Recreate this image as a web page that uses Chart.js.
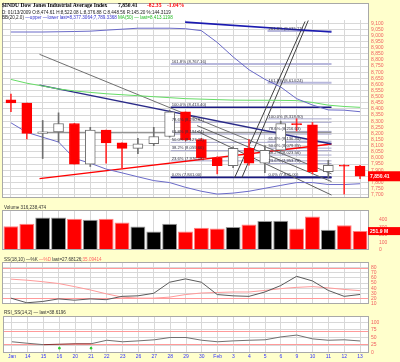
<!DOCTYPE html>
<html>
<head>
<meta charset="utf-8">
<script src="https://cdn.jsdelivr.net/npm/chart.js@4.4.1/dist/chart.umd.min.js"></script>
<style>
  html, body { margin: 0; padding: 0; background: #ffffcc; }
  #wrap { position: relative; width: 400px; height: 362px; overflow: hidden; }
  canvas { position: absolute; left: 0; }
</style>
</head>
<body>
<div id="wrap">
  <canvas id="priceChart" width="400" height="204" style="top:0px"></canvas>
  <canvas id="volumeChart" width="400" height="52" style="top:204px"></canvas>
  <canvas id="stochChart" width="400" height="54" style="top:256px"></canvas>
  <canvas id="rsiChart" width="400" height="52" style="top:310px"></canvas>
</div>
<script>
// $INDU daily, 13 Jan - 13 Feb 2009
const dates = ['Jan', '14', '15', '16', '20', '21', '22', '23', '26', '27', '28', '29', '30',
  'Feb', '3', '4', '5', '6', '9', '10', '11', '12', '13'];

const openPrices = [8474.61, 8448.56, 8200.14, 8212.49, 8281.22, 7949.09, 8228.10, 8122.80, 8077.56, 8116.03, 8174.73, 8375.45,
  8149.01, 8000.86, 7936.75, 8078.36, 7956.66, 8063.07, 8280.59, 8270.87, 7888.88, 7939.53, 7932.76];
const highPrices = [8522.08, 8448.56, 8306, 8368, 8281.22, 8250, 8228.10, 8122.80, 8160, 8250, 8390, 8375.45,
  8160, 8010, 8090, 8150, 8100, 8300, 8320, 8290, 7980, 7945, 7940];
const lowPrices = [8376.88, 8155, 7995, 8130, 7949.09, 7930, 7957, 7915, 8035, 8100, 8170, 8140,
  7990, 7870, 7920, 7940, 7880, 8050, 8220, 7870, 7840, 7705, 7830];
const closePrices = [8448.56, 8200.14, 8212.49, 8281.22, 7949.09, 8228.10, 8122.80, 8077.56, 8116.03, 8174.73, 8375.45, 8149.01,
  8000.86, 7936.75, 8078.36, 7956.66, 8063.07, 8280.59, 8270.87, 7888.88, 7939.53, 7932.76, 7850.41];

// volume, millions of shares
const volumeM = [316.2, 350, 432, 432, 418, 403, 418, 368, 313, 245, 350, 245,
  298, 287, 308, 340, 386, 389, 287, 445, 270, 329, 251.9];

// overlays
const bbUpper = [9028, 9028, 9028, 9030, 9032, 9035, 9043, 9051, 9059, 9059, 9059, 9055,
  9039, 8943, 8825, 8720, 8642, 8579, 8484, 8432, 8392, 8390, 8377.31];
const bbLower = [8287, 8209, 8169, 8130, 7996, 7957, 7909, 7878, 7846, 7815, 7799, 7760,
  7728, 7705, 7713, 7728, 7752, 7776, 7799, 7799, 7783, 7783, 7789.34];
const ma50 = [8641, 8610, 8587, 8563, 8547, 8535, 8524, 8516, 8508, 8500, 8492, 8484,
  8480, 8476, 8472, 8471, 8471, 8470, 8468, 8453, 8431, 8420, 8413.12];

// trendlines: [bar index, price] end points
const trendNavy = [[-0.5, 8594], [22.5, 8114]];
const trendNavyTop = [[10.97, 9109], [22.5, 9028]];
const trendGrayA = [[-0.5, 8846], [22.5, 7870]];
const trendGrayB = [[11.91, 8264], [22.5, 7807]];
const trendGrayC = [[11.91, 8217], [22.5, 7697]];
const trendSteepA = [[14.87, 7839], [20.42, 9114]];
const trendSteepB = [[15.44, 7839], [20.67, 9122]];
const trendRed = [[-0.5, 7831], [22.5, 8114]];
const supportLevel = 8209;

// fibonacci sets
const fibRatios = ['0.0%', '23.6%', '38.2%', '50.0%', '61.8%', '78.6%', '100.0%', '161.8%', '261.8%'];
const fib1Start = 9.83;
const fib1Levels = [7841.00, 7976.09, 8059.66, 8127.20, 8194.74, 8290.91, 8413.40, 8767.16];
const fib2Start = 17.46;
const fib2Levels = [7841.00, 7953.78, 8023.56, 8079.95, 8136.34, 8216.63, 8318.90, 8614.24, 9035.21];

// indicators
const stochK = [20.5, 11.5, 14, 19, 16.5, 19, 17.5, 24, 25, 30, 51.5, 58,
  51.5, 27.5, 25, 24, 32.5, 45, 63, 54, 35.5, 24, 27.68];
const stochD = [57.5, 55.5, 52.5, 49, 43, 36.5, 29, 22.5, 20.5, 20.5, 22.5, 27.5,
  30.5, 31.5, 32.5, 32.5, 35.5, 39, 41.5, 43, 40.5, 37.5, 35.09];
const stochLevels = [80, 20];
const rsiValues = [36, 31, 26.5, 28, 29.5, 29.5, 41, 36, 39, 42.5, 50, 50,
  41, 36, 39, 41, 42.5, 52, 58, 45.5, 41, 42.5, 38.62];
const rsiSignals = [null, null, null, 15, null, 15, null, null, null, null, null, null,
  null, null, null, null, null, null, null, null, null, null, null];
const rsiLevels = [70, 30];

const YELLOW = '#ffffcc';
const GRID = '#d8d8d8';
const AXIS_RED = '#f06060';
const FONT = 'Liberation Sans';

const upDay = closePrices.map((c, i) => c >= openPrices[i]);
const fmt2 = v => v.toLocaleString('en-US', { minimumFractionDigits: 2, maximumFractionDigits: 2 });

// white panel on yellow page + grey frame
const panelBg = {
  id: 'panelBg',
  beforeDraw(chart, args, opts) {
    const { ctx, chartArea: a } = chart;
    const top = opts.top !== undefined ? opts.top : a.top;
    ctx.save();
    ctx.fillStyle = YELLOW;
    ctx.fillRect(0, 0, chart.width, chart.height);
    ctx.fillStyle = '#ffffff';
    ctx.fillRect(a.left, top, a.right - a.left, a.bottom - top);
    ctx.restore();
  },
  afterDraw(chart, args, opts) {
    const { ctx, chartArea: a } = chart;
    const top = opts.top !== undefined ? opts.top : a.top;
    ctx.save();
    ctx.strokeStyle = '#a8a8a8';
    ctx.lineWidth = 1;
    ctx.strokeRect(a.left - 0.5, top + 0.5, a.right - a.left + 1, a.bottom - top - 1);
    ctx.restore();
  }
};

function drawParts(ctx, x, y, parts, font) {
  ctx.font = font;
  ctx.textBaseline = 'middle';
  ctx.textAlign = 'left';
  parts.forEach(([text, color]) => {
    ctx.fillStyle = color;
    ctx.fillText(text, x, y);
    x += ctx.measureText(text).width;
  });
}

function levelLines(levels, color) {
  return {
    id: 'levelLines',
    beforeDatasetsDraw(chart) {
      const { ctx, chartArea: a, scales } = chart;
      ctx.save();
      ctx.strokeStyle = color;
      ctx.lineWidth = 1;
      levels.forEach(v => {
        const y = Math.round(scales.y.getPixelForValue(v)) + 0.5;
        ctx.beginPath();
        ctx.moveTo(a.left, y);
        ctx.lineTo(a.right, y);
        ctx.stroke();
      });
      ctx.restore();
    }
  };
}

function valueTag(value, text, h) {
  return {
    id: 'valueTag',
    afterDraw(chart) {
      const { ctx, chartArea: a, scales } = chart;
      const y = scales.y.getPixelForValue(value);
      ctx.save();
      ctx.fillStyle = '#ff0000';
      ctx.fillRect(a.right, y - h / 2, chart.width - a.right, h);
      drawParts(ctx, a.right + 2, y + 0.5, [[text, '#ffffff']], 'bold 5px "' + FONT + '"');
      ctx.restore();
    }
  };
}

function seg(points, color, width) {
  return {
    type: 'line',
    xAxisID: 'xl',
    data: points.map(p => ({ x: p[0], y: p[1] })),
    borderColor: color,
    borderWidth: width,
    pointRadius: 0,
    order: 6
  };
}

function xScale(showTicks) {
  return {
    type: 'category',
    offset: true,
    grid: { offset: false, color: GRID, drawTicks: false },
    border: { display: false },
    ticks: showTicks
      ? { color: '#3333ff', font: { family: FONT, size: 5 }, padding: 1, maxRotation: 0, autoSkip: false }
      : { display: false },
    afterFit: s => { s.height = showTicks ? 9 : 0; }
  };
}

function yScale(min, max, step, topTick) {
  return {
    position: 'right',
    min: min,
    max: max,
    grid: { color: GRID, drawTicks: false },
    border: { display: false },
    ticks: { stepSize: step, includeBounds: false, autoSkip: false, color: AXIS_RED,
      font: { family: FONT, size: 5 }, padding: 3 },
    afterBuildTicks: s => { s.ticks = s.ticks.filter(t => t.value <= topTick); },
    afterFit: s => { s.width = 32; }
  };
}

const baseOptions = {
  responsive: false,
  animation: false,
  devicePixelRatio: 1,
  events: []
};

// ---------- price panel ----------
const fibSets = [
  { start: fib1Start, levels: fib1Levels },
  { start: fib2Start, levels: fib2Levels }
];

const fibDatasets = [];
fibSets.forEach((set, s) => {
  set.levels.forEach((lvl, i) => {
    let color = '#a8a8cc', width = 1;
    if (i === 0 || (i === 6 && s === 0)) { color = '#1a1a80'; width = 1.6; }
    if (i >= 7) { color = '#b8b8dc'; width = 2; }
    fibDatasets.push(Object.assign(seg([[set.start, lvl], [22.5, lvl]], color, width), { order: 7 }));
  });
});

const priceOverlay = {
  id: 'priceOverlay',
  afterDatasetsDraw(chart) {
    const { ctx, scales } = chart;
    ctx.save();
    fibSets.forEach(set => {
      const x = scales.xl.getPixelForValue(set.start) + 1;
      set.levels.forEach((lvl, i) => {
        const y = scales.y.getPixelForValue(lvl) - 2.3;
        drawParts(ctx, x, y, [[fibRatios[i] + ' (' + fmt2(lvl) + ')', '#333344']], '4.2px "' + FONT + '"');
      });
    });
    ctx.restore();
  },
  afterDraw(chart) {
    const ctx = chart.ctx;
    ctx.save();
    drawParts(ctx, 2, 5.5, [['$INDU Dow Jones Industrial Average Index', '#000000']], 'bold 5.6px "Liberation Serif"');
    drawParts(ctx, 118, 5.5, [['7,850.41', '#000000']], 'bold 5.6px "Liberation Serif"');
    drawParts(ctx, 147, 5.5, [['-82.35', '#ff0000']], 'bold 5.6px "Liberation Serif"');
    drawParts(ctx, 167, 5.5, [['-1.04%', '#ff0000']], 'bold 5.6px "Liberation Serif"');
    drawParts(ctx, 2, 12.3, [['D: 01/13/2009 O:8,474.61 H:8,522.08 L:8,376.88 C:8,448.56 R:145.20 %:144.3119', '#222222']],
      '4.6px "' + FONT + '"');
    drawParts(ctx, 2, 17.8, [['BB(20,2.0) ', '#222222'], ['\u2014upper \u2014lower last=8,377.3064;7,789.3368', '#3333cc']],
      '4.6px "' + FONT + '"');
    drawParts(ctx, 118, 17.8, [['MA(50) \u2014 last=8,413.1198', '#22bb22']], '4.6px "' + FONT + '"');
    ctx.restore();
  }
};

new Chart(document.getElementById('priceChart'), {
  type: 'bar',
  data: {
    labels: dates,
    datasets: [
      {
        data: openPrices.map((o, i) => [Math.min(o, closePrices[i]), Math.max(o, closePrices[i])]),
        backgroundColor: upDay.map(u => u ? '#ffffff' : '#ff0000'),
        borderColor: upDay.map(u => u ? '#707070' : '#ff0000'),
        borderWidth: 1,
        borderSkipped: false,
        barThickness: 10,
        grouped: false,
        order: 0
      },
      {
        data: lowPrices.map((l, i) => [l, highPrices[i]]),
        backgroundColor: upDay.map(u => u ? '#707070' : '#ff3030'),
        borderWidth: 0,
        barThickness: 1,
        grouped: false,
        order: 1
      },
      { type: 'line', data: bbUpper, borderColor: '#6a6ac8', borderWidth: 1, pointRadius: 0, order: 4 },
      { type: 'line', data: bbLower, borderColor: '#6a6ac8', borderWidth: 1, pointRadius: 0, order: 4 },
      { type: 'line', data: ma50, borderColor: '#66dd66', borderWidth: 1, pointRadius: 0, order: 4 },
      seg(trendNavy, '#2a2a88', 1.4),
      seg(trendNavyTop, '#1a1ab0', 1.6),
      seg(trendGrayA, '#707070', 1),
      seg(trendGrayB, '#606060', 1),
      seg(trendGrayC, '#606060', 1),
      seg(trendSteepA, '#404040', 1),
      seg(trendSteepB, '#404040', 1),
      seg(trendRed, '#ff0000', 1.4),
      seg([[-0.5, supportLevel], [22.5, supportLevel]], '#808080', 1),
      ...fibDatasets
    ]
  },
  options: Object.assign({}, baseOptions, {
    layout: { padding: { left: 3, top: 20, bottom: 1 } },
    scales: {
      x: xScale(false),
      xl: { type: 'linear', min: -0.5, max: 22.5, display: false },
      y: yScale(7673, 9126, 50, 9100)
    },
    plugins: { legend: { display: false }, tooltip: { enabled: false }, panelBg: { top: 3 } }
  }),
  plugins: [panelBg, priceOverlay, valueTag(closePrices[closePrices.length - 1], '7,850.41', 10)]
});

// ---------- volume panel ----------
new Chart(document.getElementById('volumeChart'), {
  type: 'bar',
  data: {
    labels: dates,
    datasets: [{
      data: volumeM,
      backgroundColor: upDay.map(u => u ? '#000000' : '#ff0000'),
      borderColor: upDay.map(u => u ? '#9a9a9a' : '#ff8080'),
      borderWidth: 1,
      borderSkipped: 'bottom',
      barPercentage: 0.94,
      categoryPercentage: 1
    }]
  },
  options: Object.assign({}, baseOptions, {
    layout: { padding: { left: 3, top: 0, bottom: 1 } },
    scales: { x: xScale(false), y: Object.assign(yScale(0, 533, 100, 400), { grid: { display: false } }) },
    plugins: { legend: { display: false }, tooltip: { enabled: false } }
  }),
  plugins: [panelBg, valueTag(volumeM[volumeM.length - 1], '251.9 M', 8), {
    id: 'volLabel',
    afterDraw(chart) {
      drawParts(chart.ctx, 4, 4, [['Volume 316,238,474', '#333333']], '4.6px "' + FONT + '"');
    }
  }]
});

// ---------- slow stochastic ----------
new Chart(document.getElementById('stochChart'), {
  type: 'line',
  data: {
    labels: dates,
    datasets: [
      { data: stochK, borderColor: '#5a5a5a', borderWidth: 1, pointRadius: 0 },
      { data: stochD, borderColor: '#ff9a9a', borderWidth: 1, pointRadius: 0 }
    ]
  },
  options: Object.assign({}, baseOptions, {
    layout: { padding: { left: 3, top: 0, bottom: 0 } },
    scales: { x: xScale(false), y: yScale(9.1, 90.9, 10, 80) },
    plugins: { legend: { display: false }, tooltip: { enabled: false } }
  }),
  plugins: [panelBg, levelLines(stochLevels, '#ff9a9a'), {
    id: 'stochLabel',
    afterDraw(chart) {
      drawParts(chart.ctx, 4, 3.5, [['SS(18,10) \u2014%K ', '#333333'], ['\u2014%D ', '#ff6666'],
        ['last=27.68126;', '#333333'], ['35.09414', '#ff6666']], '4.6px "' + FONT + '"');
    }
  }]
});

// ---------- RSI ----------
new Chart(document.getElementById('rsiChart'), {
  type: 'line',
  data: {
    labels: dates,
    datasets: [
      { data: rsiSignals, showLine: false, pointRadius: 1.3, pointBackgroundColor: '#33cc33', pointBorderWidth: 0 },
      {
        data: rsiValues, borderColor: '#707070', borderWidth: 1, pointRadius: 0,
        segment: { borderColor: c => (c.p0.parsed.y < 30.5 && c.p1.parsed.y < 30.5) ? '#883333' : '#707070' }
      }
    ]
  },
  options: Object.assign({}, baseOptions, {
    layout: { padding: { left: 3, top: 0, bottom: 0 } },
    scales: { x: xScale(true), y: yScale(-0.85, 120.6, 25, 100) },
    plugins: { legend: { display: false }, tooltip: { enabled: false } }
  }),
  plugins: [panelBg, levelLines(rsiLevels, '#ff9a9a'), {
    id: 'rsiLabel',
    afterDraw(chart) {
      drawParts(chart.ctx, 4, 3, [['RSI_SS(14,2) \u2014 last=38.6196', '#333333']], '4.6px "' + FONT + '"');
    }
  }]
});
</script>
</body>
</html>
